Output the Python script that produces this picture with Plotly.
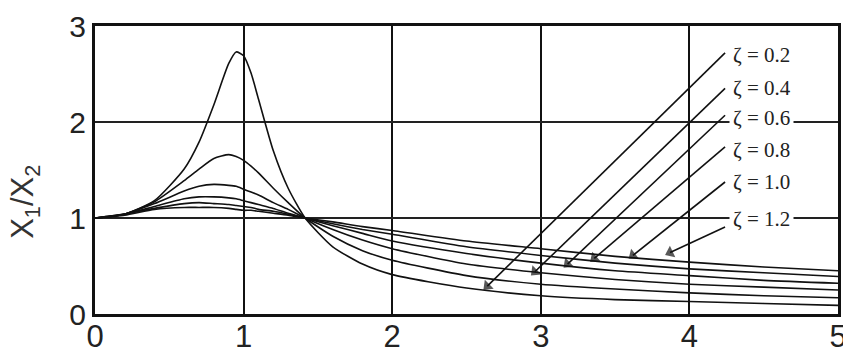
import plotly.graph_objects as go

# frequency ratio samples and displacement ratio X1/X2 for each damping ratio
ratio = [0, 0.2, 0.4, 0.6, 0.7, 0.8, 0.9, 0.95, 1.0, 1.05, 1.1, 1.2, 1.3, 1.414,
         1.6, 1.8, 2.0, 2.5, 3.0, 3.5, 4.0, 4.5, 5.0]
z02 = [1.00, 1.04, 1.18, 1.51, 1.79, 2.18, 2.61, 2.73, 2.69, 2.51, 2.24, 1.70, 1.31, 1.00,
       0.70, 0.52, 0.41, 0.27, 0.19, 0.15, 0.13, 0.11, 0.09]
z04 = [1.00, 1.04, 1.17, 1.39, 1.51, 1.62, 1.66, 1.64, 1.60, 1.54, 1.47, 1.31, 1.16, 1.00,
       0.81, 0.66, 0.56, 0.40, 0.31, 0.26, 0.22, 0.19, 0.17]
z06 = [1.00, 1.04, 1.15, 1.28, 1.33, 1.35, 1.34, 1.33, 1.30, 1.27, 1.24, 1.16, 1.09, 1.00,
       0.88, 0.77, 0.68, 0.52, 0.43, 0.36, 0.31, 0.28, 0.25]
z08 = [1.00, 1.04, 1.12, 1.20, 1.22, 1.22, 1.21, 1.20, 1.18, 1.16, 1.14, 1.10, 1.05, 1.00,
       0.92, 0.84, 0.76, 0.63, 0.53, 0.45, 0.40, 0.35, 0.32]
z10 = [1.00, 1.04, 1.10, 1.15, 1.16, 1.15, 1.14, 1.13, 1.12, 1.11, 1.09, 1.07, 1.04, 1.00,
       0.94, 0.88, 0.83, 0.70, 0.61, 0.53, 0.47, 0.43, 0.39]
z12 = [1.00, 1.03, 1.09, 1.11, 1.11, 1.11, 1.10, 1.09, 1.08, 1.08, 1.07, 1.05, 1.03, 1.00,
       0.96, 0.91, 0.87, 0.76, 0.68, 0.60, 0.54, 0.49, 0.45]

series = [z02, z04, z06, z08, z10, z12]
zeta_labels = ["ζ = 0.2", "ζ = 0.4", "ζ = 0.6", "ζ = 0.8", "ζ = 1.0", "ζ = 1.2"]

# label callouts: where each label sits and where its arrow points
label_y = [2.70, 2.35, 2.04, 1.71, 1.37, 0.99]
tail_x = 4.24
tail_y = [2.72, 2.35, 2.07, 1.74, 1.375, 0.906]
head_x = [2.64, 2.96, 3.18, 3.36, 3.62, 3.87]
head_y = [0.29, 0.44, 0.52, 0.58, 0.61, 0.64]

x_ticks = [0, 1, 2, 3, 4, 5]
y_ticks = [0, 1, 2, 3]

fig = go.Figure()
for ys in series:
    fig.add_trace(go.Scatter(
        x=ratio, y=ys, mode="lines",
        line=dict(color="#111111", width=1.6, shape="spline", smoothing=0.6),
        showlegend=False, hoverinfo="skip",
    ))

# callout arrows: a line from the label to the curve with a filled head at the end
for ty, hx, hy in zip(tail_y, head_x, head_y):
    fig.add_trace(go.Scatter(
        x=[tail_x, hx], y=[ty, hy], mode="lines+markers",
        line=dict(color="#111111", width=1.6),
        marker=dict(symbol="triangle-up", size=[0, 11], angleref="previous",
                    color="#111111", line=dict(width=0)),
        showlegend=False, hoverinfo="skip", cliponaxis=False,
    ))

annotations = []
for lab, ly in zip(zeta_labels, label_y):
    annotations.append(dict(
        x=4.265, y=ly, xref="x", yref="y",
        text=lab, showarrow=False, xanchor="left", yanchor="middle",
        font=dict(family="Liberation Serif, Times New Roman, serif", size=21, color="#222222"),
        bgcolor="white", borderpad=3,
    ))

# rotated y-axis title
annotations.append(dict(
    x=-0.094, y=0.39, xref="paper", yref="paper",
    text="X<sub>1</sub>/X<sub>2</sub>", showarrow=False, textangle=-90,
    xanchor="center", yanchor="middle",
    font=dict(family="Liberation Sans, Arial, sans-serif", size=31, color="#333333"),
))

x_tick_font = dict(family="Liberation Sans, Arial, sans-serif", size=31, color="#222222")
y_tick_font = dict(family="Liberation Sans, Arial, sans-serif", size=30, color="#222222")

fig.update_layout(
    width=843, height=354,
    margin=dict(l=95, r=5, t=26, b=40),
    paper_bgcolor="white", plot_bgcolor="white",
    annotations=annotations,
    xaxis=dict(
        range=[0, 5], tickvals=x_ticks, ticktext=[str(v) for v in x_ticks],
        showgrid=True, gridcolor="#111111", gridwidth=1.8,
        showline=True, linecolor="#111111", linewidth=3, mirror=True,
        zeroline=False, ticks="", tickfont=x_tick_font,
        automargin=False, ticklabeloverflow="allow", ticklabelstandoff=-7,
    ),
    yaxis=dict(
        range=[0, 3], tickvals=y_ticks, ticktext=[str(v) for v in y_ticks],
        showgrid=True, gridcolor="#222222", gridwidth=2.2,
        showline=True, linecolor="#111111", linewidth=3, mirror=True,
        zeroline=False, ticks="", tickfont=y_tick_font,
        automargin=False, ticklabeloverflow="allow",
    ),
)

fig.write_html("out.html")
